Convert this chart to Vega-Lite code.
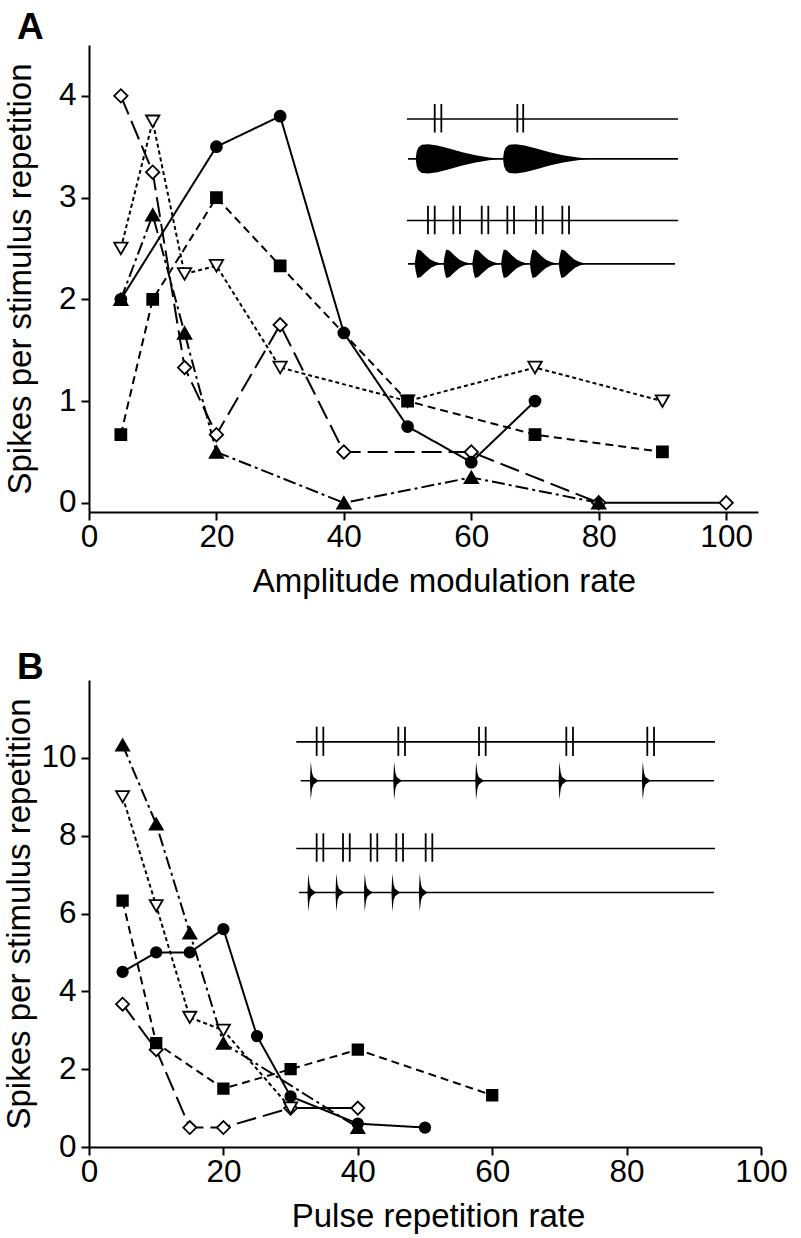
{
  "$schema": "https://vega.github.io/schema/vega-lite/v6.json",
  "background": "white",
  "padding": {"left": 3, "top": 9, "right": 0, "bottom": 0},
  "bounds": "flush",
  "spacing": 168,
  "config": {
    "view": {"stroke": null},
    "font": "Liberation Sans",
    "axis": {
      "grid": false,
      "domainColor": "black",
      "domainWidth": 2,
      "tickColor": "black",
      "tickWidth": 2,
      "tickSize": 8,
      "labelFont": "Liberation Sans",
      "labelFontSize": 31.5,
      "labelColor": "black",
      "labelFlush": false,
      "labelPadding": 5,
      "titleFont": "Liberation Sans",
      "titleFontSize": 33,
      "titleFontWeight": "normal",
      "titleColor": "black"
    },
    "axisX": {"labelPadding": 1, "titlePadding": 13}
  },
  "datasets": {
    "A": [
      {"series": "diamond", "rate": 5, "spikes": 4},
      {"series": "diamond", "rate": 10, "spikes": 3.25},
      {"series": "diamond", "rate": 15, "spikes": 1.33},
      {"series": "diamond", "rate": 20, "spikes": 0.67},
      {"series": "diamond", "rate": 30, "spikes": 1.75},
      {"series": "diamond", "rate": 40, "spikes": 0.5},
      {"series": "diamond", "rate": 60, "spikes": 0.5},
      {"series": "diamond", "rate": 80, "spikes": 0},
      {"series": "diamond", "rate": 100, "spikes": 0},
      {"series": "tridown", "rate": 5, "spikes": 2.5},
      {"series": "tridown", "rate": 10, "spikes": 3.75},
      {"series": "tridown", "rate": 15, "spikes": 2.25},
      {"series": "tridown", "rate": 20, "spikes": 2.33},
      {"series": "tridown", "rate": 30, "spikes": 1.33},
      {"series": "tridown", "rate": 50, "spikes": 1},
      {"series": "tridown", "rate": 70, "spikes": 1.33},
      {"series": "tridown", "rate": 90, "spikes": 1},
      {"series": "square", "rate": 5, "spikes": 0.67},
      {"series": "square", "rate": 10, "spikes": 2},
      {"series": "square", "rate": 20, "spikes": 3},
      {"series": "square", "rate": 30, "spikes": 2.33},
      {"series": "square", "rate": 50, "spikes": 1},
      {"series": "square", "rate": 70, "spikes": 0.67},
      {"series": "square", "rate": 90, "spikes": 0.5},
      {"series": "triangle", "rate": 5, "spikes": 2},
      {"series": "triangle", "rate": 10, "spikes": 2.83},
      {"series": "triangle", "rate": 15, "spikes": 1.67},
      {"series": "triangle", "rate": 20, "spikes": 0.5},
      {"series": "triangle", "rate": 40, "spikes": 0},
      {"series": "triangle", "rate": 60, "spikes": 0.25},
      {"series": "triangle", "rate": 80, "spikes": 0},
      {"series": "circle", "rate": 5, "spikes": 2},
      {"series": "circle", "rate": 20, "spikes": 3.5},
      {"series": "circle", "rate": 30, "spikes": 3.8},
      {"series": "circle", "rate": 40, "spikes": 1.67},
      {"series": "circle", "rate": 50, "spikes": 0.75},
      {"series": "circle", "rate": 60, "spikes": 0.4},
      {"series": "circle", "rate": 70, "spikes": 1}
    ],
    "B": [
      {"series": "diamond", "rate": 5, "spikes": 3.67},
      {"series": "diamond", "rate": 10, "spikes": 2.5},
      {"series": "diamond", "rate": 15, "spikes": 0.5},
      {"series": "diamond", "rate": 20, "spikes": 0.5},
      {"series": "diamond", "rate": 30, "spikes": 1},
      {"series": "diamond", "rate": 40, "spikes": 1},
      {"series": "tridown", "rate": 5, "spikes": 9},
      {"series": "tridown", "rate": 10, "spikes": 6.2},
      {"series": "tridown", "rate": 15, "spikes": 3.33},
      {"series": "tridown", "rate": 20, "spikes": 3},
      {"series": "tridown", "rate": 30, "spikes": 1},
      {"series": "square", "rate": 5, "spikes": 6.33},
      {"series": "square", "rate": 10, "spikes": 2.67},
      {"series": "square", "rate": 20, "spikes": 1.5},
      {"series": "square", "rate": 30, "spikes": 2},
      {"series": "square", "rate": 40, "spikes": 2.5},
      {"series": "square", "rate": 60, "spikes": 1.33},
      {"series": "triangle", "rate": 5, "spikes": 10.33},
      {"series": "triangle", "rate": 10, "spikes": 8.3},
      {"series": "triangle", "rate": 15, "spikes": 5.5},
      {"series": "triangle", "rate": 20, "spikes": 2.67},
      {"series": "triangle", "rate": 40, "spikes": 0.5},
      {"series": "circle", "rate": 5, "spikes": 4.5},
      {"series": "circle", "rate": 10, "spikes": 5},
      {"series": "circle", "rate": 15, "spikes": 5},
      {"series": "circle", "rate": 20, "spikes": 5.6},
      {"series": "circle", "rate": 25, "spikes": 2.85},
      {"series": "circle", "rate": 30, "spikes": 1.3},
      {"series": "circle", "rate": 40, "spikes": 0.6},
      {"series": "circle", "rate": 50, "spikes": 0.5}
    ],
    "railsA": [
      {"row": "train1", "t0": 49.9, "t1": 92.45, "lvl": 3.773},
      {"row": "wave1", "t0": 50.07, "t1": 92.45, "lvl": 3.381},
      {"row": "train2", "t0": 49.9, "t1": 92.45, "lvl": 2.775},
      {"row": "wave2", "t0": 50.07, "t1": 91.98, "lvl": 2.349}
    ],
    "ticksA": [
      {"t": 54.26, "lo": 3.64, "hi": 3.92},
      {"t": 55.3, "lo": 3.64, "hi": 3.92},
      {"t": 67.23, "lo": 3.64, "hi": 3.92},
      {"t": 68.15, "lo": 3.64, "hi": 3.92},
      {"t": 53.2, "lo": 2.64, "hi": 2.92},
      {"t": 54.26, "lo": 2.64, "hi": 2.92},
      {"t": 57.18, "lo": 2.64, "hi": 2.92},
      {"t": 58.23, "lo": 2.64, "hi": 2.92},
      {"t": 61.64, "lo": 2.64, "hi": 2.92},
      {"t": 62.67, "lo": 2.64, "hi": 2.92},
      {"t": 65.66, "lo": 2.64, "hi": 2.92},
      {"t": 66.71, "lo": 2.64, "hi": 2.92},
      {"t": 70.16, "lo": 2.64, "hi": 2.92},
      {"t": 71.21, "lo": 2.64, "hi": 2.92},
      {"t": 74.29, "lo": 2.64, "hi": 2.92},
      {"t": 75.34, "lo": 2.64, "hi": 2.92}
    ],
    "envA": [
      {"burst": "s1", "t": 51.27, "hi": 3.381, "lo": 3.381},
      {"burst": "s1", "t": 51.43, "hi": 3.453, "lo": 3.309},
      {"burst": "s1", "t": 51.69, "hi": 3.492, "lo": 3.27},
      {"burst": "s1", "t": 52.22, "hi": 3.519, "lo": 3.243},
      {"burst": "s1", "t": 53.26, "hi": 3.525, "lo": 3.237},
      {"burst": "s1", "t": 54.67, "hi": 3.512, "lo": 3.25},
      {"burst": "s1", "t": 56.51, "hi": 3.482, "lo": 3.28},
      {"burst": "s1", "t": 58.6, "hi": 3.447, "lo": 3.315},
      {"burst": "s1", "t": 60.69, "hi": 3.417, "lo": 3.345},
      {"burst": "s1", "t": 62.78, "hi": 3.394, "lo": 3.368},
      {"burst": "s1", "t": 64.62, "hi": 3.381, "lo": 3.381},
      {"burst": "s2", "t": 64.98, "hi": 3.381, "lo": 3.381},
      {"burst": "s2", "t": 65.14, "hi": 3.453, "lo": 3.309},
      {"burst": "s2", "t": 65.4, "hi": 3.492, "lo": 3.27},
      {"burst": "s2", "t": 65.93, "hi": 3.519, "lo": 3.243},
      {"burst": "s2", "t": 66.97, "hi": 3.525, "lo": 3.237},
      {"burst": "s2", "t": 68.38, "hi": 3.512, "lo": 3.25},
      {"burst": "s2", "t": 70.22, "hi": 3.482, "lo": 3.28},
      {"burst": "s2", "t": 72.31, "hi": 3.447, "lo": 3.315},
      {"burst": "s2", "t": 74.4, "hi": 3.417, "lo": 3.345},
      {"burst": "s2", "t": 76.7, "hi": 3.394, "lo": 3.368},
      {"burst": "s2", "t": 78.7, "hi": 3.381, "lo": 3.381},
      {"burst": "f1", "t": 51.12, "hi": 2.349, "lo": 2.349},
      {"burst": "f1", "t": 51.28, "hi": 2.424, "lo": 2.274},
      {"burst": "f1", "t": 51.54, "hi": 2.489, "lo": 2.209},
      {"burst": "f1", "t": 52.06, "hi": 2.479, "lo": 2.219},
      {"burst": "f1", "t": 52.85, "hi": 2.431, "lo": 2.267},
      {"burst": "f1", "t": 53.63, "hi": 2.389, "lo": 2.309},
      {"burst": "f1", "t": 54.42, "hi": 2.366, "lo": 2.332},
      {"burst": "f1", "t": 55.47, "hi": 2.349, "lo": 2.349},
      {"burst": "f2", "t": 55.64, "hi": 2.349, "lo": 2.349},
      {"burst": "f2", "t": 55.8, "hi": 2.424, "lo": 2.274},
      {"burst": "f2", "t": 56.06, "hi": 2.489, "lo": 2.209},
      {"burst": "f2", "t": 56.58, "hi": 2.479, "lo": 2.219},
      {"burst": "f2", "t": 57.37, "hi": 2.431, "lo": 2.267},
      {"burst": "f2", "t": 58.15, "hi": 2.389, "lo": 2.309},
      {"burst": "f2", "t": 58.94, "hi": 2.366, "lo": 2.332},
      {"burst": "f2", "t": 59.99, "hi": 2.349, "lo": 2.349},
      {"burst": "f3", "t": 60.16, "hi": 2.349, "lo": 2.349},
      {"burst": "f3", "t": 60.32, "hi": 2.424, "lo": 2.274},
      {"burst": "f3", "t": 60.58, "hi": 2.489, "lo": 2.209},
      {"burst": "f3", "t": 61.1, "hi": 2.479, "lo": 2.219},
      {"burst": "f3", "t": 61.89, "hi": 2.431, "lo": 2.267},
      {"burst": "f3", "t": 62.67, "hi": 2.389, "lo": 2.309},
      {"burst": "f3", "t": 63.46, "hi": 2.366, "lo": 2.332},
      {"burst": "f3", "t": 64.51, "hi": 2.349, "lo": 2.349},
      {"burst": "f4", "t": 64.68, "hi": 2.349, "lo": 2.349},
      {"burst": "f4", "t": 64.84, "hi": 2.424, "lo": 2.274},
      {"burst": "f4", "t": 65.1, "hi": 2.489, "lo": 2.209},
      {"burst": "f4", "t": 65.62, "hi": 2.479, "lo": 2.219},
      {"burst": "f4", "t": 66.41, "hi": 2.431, "lo": 2.267},
      {"burst": "f4", "t": 67.19, "hi": 2.389, "lo": 2.309},
      {"burst": "f4", "t": 67.98, "hi": 2.366, "lo": 2.332},
      {"burst": "f4", "t": 69.03, "hi": 2.349, "lo": 2.349},
      {"burst": "f5", "t": 69.2, "hi": 2.349, "lo": 2.349},
      {"burst": "f5", "t": 69.36, "hi": 2.424, "lo": 2.274},
      {"burst": "f5", "t": 69.62, "hi": 2.489, "lo": 2.209},
      {"burst": "f5", "t": 70.14, "hi": 2.479, "lo": 2.219},
      {"burst": "f5", "t": 70.93, "hi": 2.431, "lo": 2.267},
      {"burst": "f5", "t": 71.71, "hi": 2.389, "lo": 2.309},
      {"burst": "f5", "t": 72.5, "hi": 2.366, "lo": 2.332},
      {"burst": "f5", "t": 73.55, "hi": 2.349, "lo": 2.349},
      {"burst": "f6", "t": 73.72, "hi": 2.349, "lo": 2.349},
      {"burst": "f6", "t": 73.88, "hi": 2.424, "lo": 2.274},
      {"burst": "f6", "t": 74.14, "hi": 2.489, "lo": 2.209},
      {"burst": "f6", "t": 74.66, "hi": 2.479, "lo": 2.219},
      {"burst": "f6", "t": 75.45, "hi": 2.431, "lo": 2.267},
      {"burst": "f6", "t": 76.23, "hi": 2.389, "lo": 2.309},
      {"burst": "f6", "t": 77.02, "hi": 2.366, "lo": 2.332},
      {"burst": "f6", "t": 78.07, "hi": 2.349, "lo": 2.349}
    ],
    "railsB": [
      {"row": "train1", "t0": 30.85, "t1": 93.15, "lvl": 10.41},
      {"row": "wave1", "t0": 31.5, "t1": 93.0, "lvl": 9.41},
      {"row": "train2", "t0": 30.85, "t1": 93.15, "lvl": 7.67},
      {"row": "wave2", "t0": 31.25, "t1": 93.0, "lvl": 6.54}
    ],
    "ticksB": [
      {"t": 33.88, "lo": 10.05, "hi": 10.8},
      {"t": 34.87, "lo": 10.05, "hi": 10.8},
      {"t": 46.03, "lo": 10.05, "hi": 10.8},
      {"t": 47.02, "lo": 10.05, "hi": 10.8},
      {"t": 58.04, "lo": 10.05, "hi": 10.8},
      {"t": 59.03, "lo": 10.05, "hi": 10.8},
      {"t": 71.03, "lo": 10.05, "hi": 10.8},
      {"t": 72.02, "lo": 10.05, "hi": 10.8},
      {"t": 83.08, "lo": 10.05, "hi": 10.8},
      {"t": 84.08, "lo": 10.05, "hi": 10.8},
      {"t": 33.88, "lo": 7.33, "hi": 8.06},
      {"t": 34.87, "lo": 7.33, "hi": 8.06},
      {"t": 37.8, "lo": 7.33, "hi": 8.06},
      {"t": 38.8, "lo": 7.33, "hi": 8.06},
      {"t": 41.92, "lo": 7.33, "hi": 8.06},
      {"t": 42.9, "lo": 7.33, "hi": 8.06},
      {"t": 45.73, "lo": 7.33, "hi": 8.06},
      {"t": 46.73, "lo": 7.33, "hi": 8.06},
      {"t": 50.1, "lo": 7.33, "hi": 8.06},
      {"t": 51.09, "lo": 7.33, "hi": 8.06}
    ],
    "envB": [
      {"burst": "p1", "t": 32.88, "hi": 9.41, "lo": 9.41},
      {"burst": "p1", "t": 33.0, "hi": 9.9, "lo": 8.92},
      {"burst": "p1", "t": 33.2, "hi": 9.61, "lo": 9.21},
      {"burst": "p1", "t": 33.4, "hi": 9.51, "lo": 9.31},
      {"burst": "p1", "t": 33.75, "hi": 9.46, "lo": 9.36},
      {"burst": "p1", "t": 34.2, "hi": 9.41, "lo": 9.41},
      {"burst": "p2", "t": 45.28, "hi": 9.41, "lo": 9.41},
      {"burst": "p2", "t": 45.4, "hi": 9.9, "lo": 8.92},
      {"burst": "p2", "t": 45.6, "hi": 9.61, "lo": 9.21},
      {"burst": "p2", "t": 45.8, "hi": 9.51, "lo": 9.31},
      {"burst": "p2", "t": 46.15, "hi": 9.46, "lo": 9.36},
      {"burst": "p2", "t": 46.6, "hi": 9.41, "lo": 9.41},
      {"burst": "p3", "t": 57.48, "hi": 9.41, "lo": 9.41},
      {"burst": "p3", "t": 57.6, "hi": 9.9, "lo": 8.92},
      {"burst": "p3", "t": 57.8, "hi": 9.61, "lo": 9.21},
      {"burst": "p3", "t": 58.0, "hi": 9.51, "lo": 9.31},
      {"burst": "p3", "t": 58.35, "hi": 9.46, "lo": 9.36},
      {"burst": "p3", "t": 58.8, "hi": 9.41, "lo": 9.41},
      {"burst": "p4", "t": 69.88, "hi": 9.41, "lo": 9.41},
      {"burst": "p4", "t": 70.0, "hi": 9.9, "lo": 8.92},
      {"burst": "p4", "t": 70.2, "hi": 9.61, "lo": 9.21},
      {"burst": "p4", "t": 70.4, "hi": 9.51, "lo": 9.31},
      {"burst": "p4", "t": 70.75, "hi": 9.46, "lo": 9.36},
      {"burst": "p4", "t": 71.2, "hi": 9.41, "lo": 9.41},
      {"burst": "p5", "t": 82.28, "hi": 9.41, "lo": 9.41},
      {"burst": "p5", "t": 82.4, "hi": 9.9, "lo": 8.92},
      {"burst": "p5", "t": 82.6, "hi": 9.61, "lo": 9.21},
      {"burst": "p5", "t": 82.8, "hi": 9.51, "lo": 9.31},
      {"burst": "p5", "t": 83.15, "hi": 9.46, "lo": 9.36},
      {"burst": "p5", "t": 83.6, "hi": 9.41, "lo": 9.41},
      {"burst": "q1", "t": 32.51, "hi": 6.54, "lo": 6.54},
      {"burst": "q1", "t": 32.63, "hi": 7.03, "lo": 6.05},
      {"burst": "q1", "t": 32.83, "hi": 6.74, "lo": 6.34},
      {"burst": "q1", "t": 33.03, "hi": 6.64, "lo": 6.44},
      {"burst": "q1", "t": 33.38, "hi": 6.59, "lo": 6.49},
      {"burst": "q1", "t": 33.83, "hi": 6.54, "lo": 6.54},
      {"burst": "q2", "t": 36.68, "hi": 6.54, "lo": 6.54},
      {"burst": "q2", "t": 36.8, "hi": 7.03, "lo": 6.05},
      {"burst": "q2", "t": 37.0, "hi": 6.74, "lo": 6.34},
      {"burst": "q2", "t": 37.2, "hi": 6.64, "lo": 6.44},
      {"burst": "q2", "t": 37.55, "hi": 6.59, "lo": 6.49},
      {"burst": "q2", "t": 38.0, "hi": 6.54, "lo": 6.54},
      {"burst": "q3", "t": 40.91, "hi": 6.54, "lo": 6.54},
      {"burst": "q3", "t": 41.03, "hi": 7.03, "lo": 6.05},
      {"burst": "q3", "t": 41.23, "hi": 6.74, "lo": 6.34},
      {"burst": "q3", "t": 41.43, "hi": 6.64, "lo": 6.44},
      {"burst": "q3", "t": 41.78, "hi": 6.59, "lo": 6.49},
      {"burst": "q3", "t": 42.23, "hi": 6.54, "lo": 6.54},
      {"burst": "q4", "t": 45.01, "hi": 6.54, "lo": 6.54},
      {"burst": "q4", "t": 45.13, "hi": 7.03, "lo": 6.05},
      {"burst": "q4", "t": 45.33, "hi": 6.74, "lo": 6.34},
      {"burst": "q4", "t": 45.53, "hi": 6.64, "lo": 6.44},
      {"burst": "q4", "t": 45.88, "hi": 6.59, "lo": 6.49},
      {"burst": "q4", "t": 46.33, "hi": 6.54, "lo": 6.54},
      {"burst": "q5", "t": 49.09, "hi": 6.54, "lo": 6.54},
      {"burst": "q5", "t": 49.21, "hi": 7.03, "lo": 6.05},
      {"burst": "q5", "t": 49.41, "hi": 6.74, "lo": 6.34},
      {"burst": "q5", "t": 49.61, "hi": 6.64, "lo": 6.44},
      {"burst": "q5", "t": 49.96, "hi": 6.59, "lo": 6.49},
      {"burst": "q5", "t": 50.41, "hi": 6.54, "lo": 6.54}
    ]
  },
  "vconcat": [
    {
      "width": 669,
      "height": 467,
      "title": {"text": "A", "anchor": "start", "frame": "group", "dx": -72, "offset": -31, "baseline": "alphabetic", "font": "Liberation Sans", "fontSize": 37, "fontWeight": "bold", "color": "black"},
      "layer": [
        {
          "data": {"name": "A"},
          "transform": [{"filter": "datum.series != 'diamond' || datum.rate <= 80"}],
          "mark": {"type": "line", "color": "black", "strokeWidth": 2},
          "encoding": {
            "x": {"field": "rate", "type": "quantitative", "scale": {"domain": [0, 105], "nice": false, "zero": false}, "axis": {"title": "Amplitude modulation rate", "values": [0, 20, 40, 60, 80, 100], "titleX": 355}},
            "y": {"field": "spikes", "type": "quantitative", "scale": {"domain": [-0.09, 4.5], "nice": false, "zero": false}, "axis": {"title": "Spikes per stimulus repetition", "values": [0, 1, 2, 3, 4], "titlePadding": 21}},
            "strokeDash": {"field": "series", "type": "nominal", "legend": null, "scale": {"domain": ["circle", "square", "tridown", "triangle", "diamond"], "range": [[1, 0], [8, 5], [4, 3], [13, 4, 3, 4], [20, 7]]}}
          }
        },
        {
          "data": {"name": "A"},
          "transform": [{"filter": "datum.series == 'diamond' && datum.rate >= 80"}],
          "mark": {"type": "line", "color": "black", "strokeWidth": 2},
          "encoding": {
            "x": {"field": "rate", "type": "quantitative", "scale": {"domain": [0, 105], "nice": false, "zero": false}, "axis": {"title": "Amplitude modulation rate", "values": [0, 20, 40, 60, 80, 100], "titleX": 355}},
            "y": {"field": "spikes", "type": "quantitative", "scale": {"domain": [-0.09, 4.5], "nice": false, "zero": false}, "axis": {"title": "Spikes per stimulus repetition", "values": [0, 1, 2, 3, 4], "titlePadding": 21}}
          }
        },
        {
          "data": {"name": "railsA"},
          "mark": {"type": "rule", "color": "black", "strokeWidth": 1.6},
          "encoding": {
            "x": {"field": "t0", "type": "quantitative", "scale": {"domain": [0, 105], "nice": false, "zero": false}, "axis": {"title": "Amplitude modulation rate", "values": [0, 20, 40, 60, 80, 100], "titleX": 355}},
            "x2": {"field": "t1"},
            "y": {"field": "lvl", "type": "quantitative", "scale": {"domain": [-0.09, 4.5], "nice": false, "zero": false}, "axis": {"title": "Spikes per stimulus repetition", "values": [0, 1, 2, 3, 4], "titlePadding": 21}}
          }
        },
        {
          "data": {"name": "ticksA"},
          "mark": {"type": "rule", "color": "black", "strokeWidth": 1.8},
          "encoding": {
            "x": {"field": "t", "type": "quantitative", "scale": {"domain": [0, 105], "nice": false, "zero": false}, "axis": {"title": "Amplitude modulation rate", "values": [0, 20, 40, 60, 80, 100], "titleX": 355}},
            "y": {"field": "lo", "type": "quantitative", "scale": {"domain": [-0.09, 4.5], "nice": false, "zero": false}, "axis": {"title": "Spikes per stimulus repetition", "values": [0, 1, 2, 3, 4], "titlePadding": 21}},
            "y2": {"field": "hi"}
          }
        },
        {
          "data": {"name": "envA"},
          "mark": {"type": "area", "color": "black", "opacity": 1},
          "encoding": {
            "x": {"field": "t", "type": "quantitative", "scale": {"domain": [0, 105], "nice": false, "zero": false}, "axis": {"title": "Amplitude modulation rate", "values": [0, 20, 40, 60, 80, 100], "titleX": 355}},
            "y": {"field": "hi", "type": "quantitative", "stack": null, "scale": {"domain": [-0.09, 4.5], "nice": false, "zero": false}, "axis": {"title": "Spikes per stimulus repetition", "values": [0, 1, 2, 3, 4], "titlePadding": 21}},
            "y2": {"field": "lo"},
            "detail": {"field": "burst", "type": "nominal"}
          }
        },
        {
          "data": {"name": "A"},
          "transform": [{"filter": "datum.series == 'diamond' || datum.series == 'tridown' || datum.series == 'triangle'"}],
          "mark": {"type": "point", "filled": true, "size": 180, "stroke": "black", "strokeWidth": 1.8, "opacity": 1},
          "encoding": {
            "x": {"field": "rate", "type": "quantitative", "scale": {"domain": [0, 105], "nice": false, "zero": false}, "axis": {"title": "Amplitude modulation rate", "values": [0, 20, 40, 60, 80, 100], "titleX": 355}},
            "y": {"field": "spikes", "type": "quantitative", "scale": {"domain": [-0.09, 4.5], "nice": false, "zero": false}, "axis": {"title": "Spikes per stimulus repetition", "values": [0, 1, 2, 3, 4], "titlePadding": 21}},
            "shape": {"field": "series", "type": "nominal", "legend": null, "scale": {"domain": ["diamond", "tridown", "square", "triangle", "circle"], "range": ["diamond", "triangle-down", "square", "triangle-up", "circle"]}},
            "fill": {"field": "series", "type": "nominal", "legend": null, "scale": {"domain": ["diamond", "tridown", "square", "triangle", "circle"], "range": ["white", "white", "black", "black", "black"]}}
          }
        },
        {
          "data": {"name": "A"},
          "transform": [{"filter": "datum.series == 'square' || datum.series == 'circle'"}],
          "mark": {"type": "point", "filled": true, "size": 120, "stroke": "black", "strokeWidth": 1.8, "opacity": 1},
          "encoding": {
            "x": {"field": "rate", "type": "quantitative", "scale": {"domain": [0, 105], "nice": false, "zero": false}, "axis": {"title": "Amplitude modulation rate", "values": [0, 20, 40, 60, 80, 100], "titleX": 355}},
            "y": {"field": "spikes", "type": "quantitative", "scale": {"domain": [-0.09, 4.5], "nice": false, "zero": false}, "axis": {"title": "Spikes per stimulus repetition", "values": [0, 1, 2, 3, 4], "titlePadding": 21}},
            "shape": {"field": "series", "type": "nominal", "legend": null, "scale": {"domain": ["diamond", "tridown", "square", "triangle", "circle"], "range": ["diamond", "triangle-down", "square", "triangle-up", "circle"]}},
            "fill": {"field": "series", "type": "nominal", "legend": null, "scale": {"domain": ["diamond", "tridown", "square", "triangle", "circle"], "range": ["white", "white", "black", "black", "black"]}}
          }
        }
      ]
    },
    {
      "width": 672,
      "height": 467,
      "title": {"text": "B", "anchor": "start", "frame": "group", "dx": -72, "offset": -36, "baseline": "alphabetic", "font": "Liberation Sans", "fontSize": 37, "fontWeight": "bold", "color": "black"},
      "layer": [
        {
          "data": {"name": "B"},
          "transform": [{"filter": "datum.series != 'diamond' || datum.rate <= 30"}],
          "mark": {"type": "line", "color": "black", "strokeWidth": 2},
          "encoding": {
            "x": {"field": "rate", "type": "quantitative", "scale": {"domain": [0, 100], "nice": false, "zero": false}, "axis": {"title": "Pulse repetition rate", "values": [0, 20, 40, 60, 80, 100], "titleX": 349}},
            "y": {"field": "spikes", "type": "quantitative", "scale": {"domain": [0, 12], "nice": false, "zero": false}, "axis": {"title": "Spikes per stimulus repetition", "values": [0, 2, 4, 6, 8, 10], "titlePadding": 4}},
            "strokeDash": {"field": "series", "type": "nominal", "legend": null, "scale": {"domain": ["circle", "square", "tridown", "triangle", "diamond"], "range": [[1, 0], [8, 5], [4, 3], [13, 4, 3, 4], [20, 7]]}}
          }
        },
        {
          "data": {"name": "B"},
          "transform": [{"filter": "datum.series == 'diamond' && datum.rate >= 30"}],
          "mark": {"type": "line", "color": "black", "strokeWidth": 2},
          "encoding": {
            "x": {"field": "rate", "type": "quantitative", "scale": {"domain": [0, 100], "nice": false, "zero": false}, "axis": {"title": "Pulse repetition rate", "values": [0, 20, 40, 60, 80, 100], "titleX": 349}},
            "y": {"field": "spikes", "type": "quantitative", "scale": {"domain": [0, 12], "nice": false, "zero": false}, "axis": {"title": "Spikes per stimulus repetition", "values": [0, 2, 4, 6, 8, 10], "titlePadding": 4}}
          }
        },
        {
          "data": {"name": "railsB"},
          "mark": {"type": "rule", "color": "black", "strokeWidth": 1.6},
          "encoding": {
            "x": {"field": "t0", "type": "quantitative", "scale": {"domain": [0, 100], "nice": false, "zero": false}, "axis": {"title": "Pulse repetition rate", "values": [0, 20, 40, 60, 80, 100], "titleX": 349}},
            "x2": {"field": "t1"},
            "y": {"field": "lvl", "type": "quantitative", "scale": {"domain": [0, 12], "nice": false, "zero": false}, "axis": {"title": "Spikes per stimulus repetition", "values": [0, 2, 4, 6, 8, 10], "titlePadding": 4}}
          }
        },
        {
          "data": {"name": "ticksB"},
          "mark": {"type": "rule", "color": "black", "strokeWidth": 1.8},
          "encoding": {
            "x": {"field": "t", "type": "quantitative", "scale": {"domain": [0, 100], "nice": false, "zero": false}, "axis": {"title": "Pulse repetition rate", "values": [0, 20, 40, 60, 80, 100], "titleX": 349}},
            "y": {"field": "lo", "type": "quantitative", "scale": {"domain": [0, 12], "nice": false, "zero": false}, "axis": {"title": "Spikes per stimulus repetition", "values": [0, 2, 4, 6, 8, 10], "titlePadding": 4}},
            "y2": {"field": "hi"}
          }
        },
        {
          "data": {"name": "envB"},
          "mark": {"type": "area", "color": "black", "opacity": 1},
          "encoding": {
            "x": {"field": "t", "type": "quantitative", "scale": {"domain": [0, 100], "nice": false, "zero": false}, "axis": {"title": "Pulse repetition rate", "values": [0, 20, 40, 60, 80, 100], "titleX": 349}},
            "y": {"field": "hi", "type": "quantitative", "stack": null, "scale": {"domain": [0, 12], "nice": false, "zero": false}, "axis": {"title": "Spikes per stimulus repetition", "values": [0, 2, 4, 6, 8, 10], "titlePadding": 4}},
            "y2": {"field": "lo"},
            "detail": {"field": "burst", "type": "nominal"}
          }
        },
        {
          "data": {"name": "B"},
          "transform": [{"filter": "datum.series == 'diamond' || datum.series == 'tridown' || datum.series == 'triangle'"}],
          "mark": {"type": "point", "filled": true, "size": 170, "stroke": "black", "strokeWidth": 1.8, "opacity": 1},
          "encoding": {
            "x": {"field": "rate", "type": "quantitative", "scale": {"domain": [0, 100], "nice": false, "zero": false}, "axis": {"title": "Pulse repetition rate", "values": [0, 20, 40, 60, 80, 100], "titleX": 349}},
            "y": {"field": "spikes", "type": "quantitative", "scale": {"domain": [0, 12], "nice": false, "zero": false}, "axis": {"title": "Spikes per stimulus repetition", "values": [0, 2, 4, 6, 8, 10], "titlePadding": 4}},
            "shape": {"field": "series", "type": "nominal", "legend": null, "scale": {"domain": ["diamond", "tridown", "square", "triangle", "circle"], "range": ["diamond", "triangle-down", "square", "triangle-up", "circle"]}},
            "fill": {"field": "series", "type": "nominal", "legend": null, "scale": {"domain": ["diamond", "tridown", "square", "triangle", "circle"], "range": ["white", "white", "black", "black", "black"]}}
          }
        },
        {
          "data": {"name": "B"},
          "transform": [{"filter": "datum.series == 'square' || datum.series == 'circle'"}],
          "mark": {"type": "point", "filled": true, "size": 110, "stroke": "black", "strokeWidth": 1.8, "opacity": 1},
          "encoding": {
            "x": {"field": "rate", "type": "quantitative", "scale": {"domain": [0, 100], "nice": false, "zero": false}, "axis": {"title": "Pulse repetition rate", "values": [0, 20, 40, 60, 80, 100], "titleX": 349}},
            "y": {"field": "spikes", "type": "quantitative", "scale": {"domain": [0, 12], "nice": false, "zero": false}, "axis": {"title": "Spikes per stimulus repetition", "values": [0, 2, 4, 6, 8, 10], "titlePadding": 4}},
            "shape": {"field": "series", "type": "nominal", "legend": null, "scale": {"domain": ["diamond", "tridown", "square", "triangle", "circle"], "range": ["diamond", "triangle-down", "square", "triangle-up", "circle"]}},
            "fill": {"field": "series", "type": "nominal", "legend": null, "scale": {"domain": ["diamond", "tridown", "square", "triangle", "circle"], "range": ["white", "white", "black", "black", "black"]}}
          }
        }
      ]
    }
  ]
}
